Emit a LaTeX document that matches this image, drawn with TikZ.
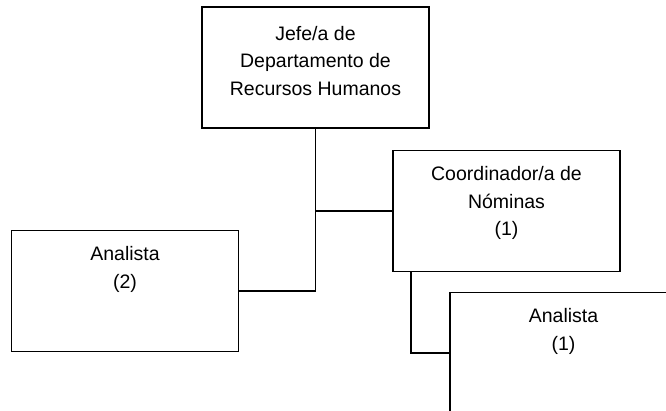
\documentclass[tikz,border=0pt]{standalone}
\usepackage{fontspec}
\setmainfont{Liberation Sans}
\usepackage{tikz}

\begin{document}
\begin{tikzpicture}[x=1pt, y=-1pt,
				orgbox/.style={rectangle, draw=black, line width=1.3pt, minimum width=227pt, minimum height=121pt, inner sep=0pt, outer sep=0pt},
				boxtext/.style={anchor=north, yshift=-16pt, align=center, inner sep=0pt, font=\fontsize{19.5}{27.5}\selectfont},
				link/.style={draw=black, line width=1.3pt},
				]
				\useasboundingbox (0,0) rectangle (666,411);
				\clip (0,0) rectangle (666,411);

					%Nodes
				\node[orgbox, label={[boxtext, yshift=-3pt]north:Jefe/a de\\Departamento de\\Recursos Humanos}]	(jefe)	at (315.5,67.5)	{};
				\node[orgbox, label={[boxtext]north:Analista\\(2)}]	(analista2)	at (125,291)	{};
				\node[orgbox, label={[boxtext]north:Coordinador/a de\\Nóminas\\(1)}]	(coord)	at (506.5,211)	{};
				\node[orgbox, label={[boxtext]north:Analista\\(1)}]	(analista1)	at (563.5,353)	{};
				\coordinate (coorddrop) at ([xshift=18pt]coord.south west);

				%Lines
				\draw[link]	(jefe.south) |- (analista2.east);
				\draw[link]	(coord.west) -- (jefe.south |- coord.west);
				\draw[link]	(coorddrop) |- (analista1.west);
			\end{tikzpicture}
\end{document}
